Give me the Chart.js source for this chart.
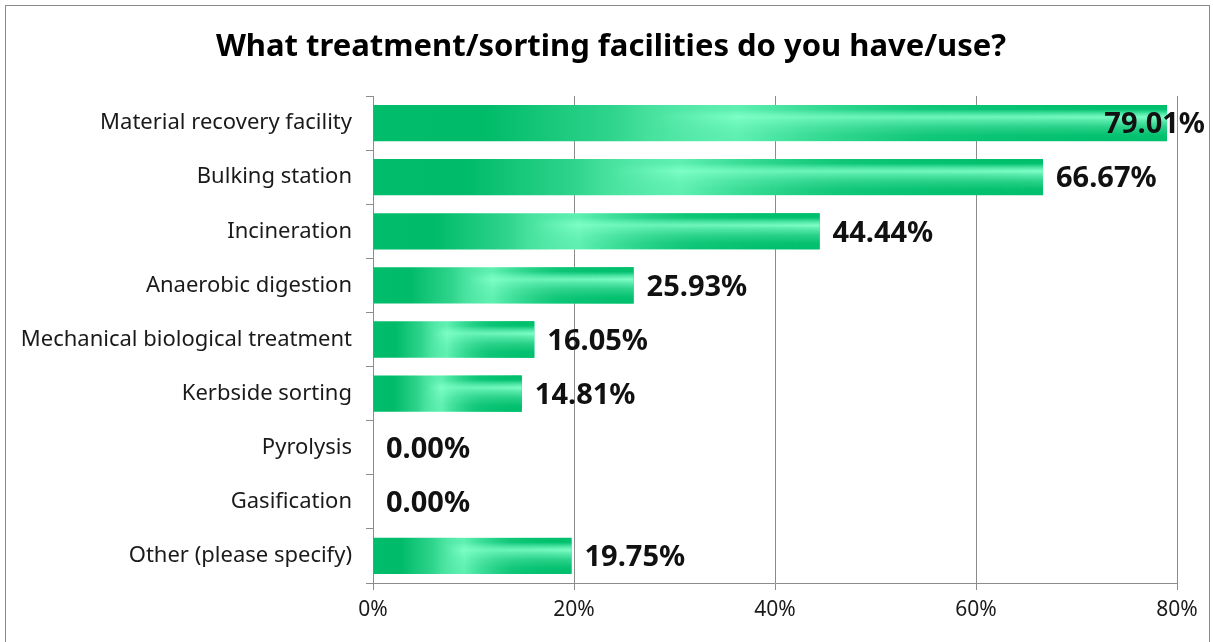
<!DOCTYPE html>
<html>
<head>
<meta charset="utf-8">
<script src="https://cdn.jsdelivr.net/npm/chart.js@4.4.1/dist/chart.umd.min.js"></script>
<style>
  html, body { margin: 0; padding: 0; background: #fff; }
  #wrap { width: 1213px; height: 642px; position: relative; }
</style>
</head>
<body>
<div id="wrap"><canvas id="c" width="1213" height="642"></canvas></div>
<script>
const chartTitle = 'What treatment/sorting facilities do you have/use?';
const categories = [
  'Material recovery facility',
  'Bulking station',
  'Incineration',
  'Anaerobic digestion',
  'Mechanical biological treatment',
  'Kerbside sorting',
  'Pyrolysis',
  'Gasification',
  'Other (please specify)'
];
const shares = [79.01, 66.67, 44.44, 25.93, 16.05, 14.81, 0.00, 0.00, 19.75];
const axisTicks = [0, 20, 40, 60, 80];

const FONT = '"Noto Sans", "Open Sans", sans-serif';
const GRID = '#8c8c8c';

// Glossy green fill, computed per bar from its pixel extent
function barFill(ctx) {
  const chart = ctx.chart;
  const xs = chart.scales.x;
  if (!chart.chartArea || !xs) return '#00bf6f';
  const x0 = xs.getPixelForValue(0);
  const x1 = xs.getPixelForValue(ctx.raw || 0);
  if (x1 - x0 < 1) return '#00bf6f';
  const g = chart.ctx.createLinearGradient(x0, 0, x1, 0);
  g.addColorStop(0.00, '#00bd6c');
  g.addColorStop(0.14, '#00bb69');
  g.addColorStop(0.30, '#2fd48c');
  g.addColorStop(0.46, '#7cffc6');
  g.addColorStop(0.72, '#38da95');
  g.addColorStop(1.00, '#00c06e');
  return g;
}

// Horizontal sheen that fades in toward the bar end
const shinePlugin = {
  id: 'shine',
  afterDatasetsDraw(chart) {
    const c = chart.ctx;
    const meta = chart.getDatasetMeta(0);
    meta.data.forEach((bar) => {
      const p = bar.getProps(['x', 'y', 'base', 'height'], true);
      const left = Math.round(p.base), right = p.x, h = p.height, top = p.y - h / 2;
      const w = Math.ceil(right - left);
      if (w < 2) return;
      const off = document.createElement('canvas');
      off.width = w;
      off.height = Math.ceil(h);
      const o = off.getContext('2d');
      const vg = o.createLinearGradient(0, 0, 0, h);
      vg.addColorStop(0.00, '#00be6b');
      vg.addColorStop(0.12, '#00c06e');
      vg.addColorStop(0.24, '#4fe6a5');
      vg.addColorStop(0.34, '#80ffc8');
      vg.addColorStop(0.44, '#5cecae');
      vg.addColorStop(0.62, '#2cd28a');
      vg.addColorStop(0.85, '#05c170');
      vg.addColorStop(1.00, '#00bf6d');
      o.fillStyle = vg;
      o.fillRect(0, 0, w, off.height);
      o.globalCompositeOperation = 'destination-in';
      const hg = o.createLinearGradient(0, 0, w, 0);
      hg.addColorStop(0.00, 'rgba(0,0,0,0)');
      hg.addColorStop(0.35, 'rgba(0,0,0,0)');
      hg.addColorStop(0.70, 'rgba(0,0,0,0.75)');
      hg.addColorStop(1.00, 'rgba(0,0,0,1)');
      o.fillStyle = hg;
      o.fillRect(0, 0, w, off.height);
      c.save();
      c.beginPath();
      c.rect(p.base, top, right - p.base, h);
      c.clip();
      c.drawImage(off, left, top, w, h);
      c.restore();
    });
  }
};

// Bold value labels after each bar, kept inside the frame
const valueLabelPlugin = {
  id: 'valueLabels',
  afterDatasetsDraw(chart) {
    const c = chart.ctx;
    const meta = chart.getDatasetMeta(0);
    c.save();
    c.font = 'bold 29px ' + FONT;
    c.fillStyle = '#111';
    c.textBaseline = 'middle';
    c.textAlign = 'left';
    meta.data.forEach((bar, i) => {
      const txt = shares[i].toFixed(2) + '%';
      const tw = c.measureText(txt).width;
      let x = bar.x + 13;
      const maxRight = 1205;
      if (x + tw > maxRight) x = maxRight - tw;
      c.fillText(txt, x, bar.y + 2);
    });
    c.restore();
  }
};

// Title and outer frame
const framePlugin = {
  id: 'frame',
  beforeDraw(chart) {
    const c = chart.ctx;
    c.save();
    c.fillStyle = '#fff';
    c.fillRect(0, 0, chart.width, chart.height);
    c.strokeStyle = '#8a8a8a';
    c.lineWidth = 1;
    c.strokeRect(5.5, 5.5, 1204, 700);
    c.restore();
  },
  afterDraw(chart) {
    const c = chart.ctx;
    c.save();
    c.font = 'bold 31px ' + FONT;
    c.fillStyle = '#000';
    c.textAlign = 'center';
    c.textBaseline = 'middle';
    c.fillText(chartTitle, 611, 47);
    c.restore();
  }
};

new Chart(document.getElementById('c'), {
  type: 'bar',
  data: {
    labels: categories,
    datasets: [{
      data: shares,
      backgroundColor: barFill,
      borderWidth: 0,
      barPercentage: 0.67,
      categoryPercentage: 1.0
    }]
  },
  options: {
    indexAxis: 'y',
    responsive: false,
    animation: false,
    events: [],
    layout: { padding: { top: 96, right: 36, bottom: 0, left: 0 } },
    plugins: {
      legend: { display: false },
      title: { display: false },
      tooltip: { enabled: false }
    },
    scales: {
      x: {
        min: 0,
        max: 80,
        afterBuildTicks(scale) { scale.ticks = axisTicks.map(v => ({ value: v })); },
        afterFit(scale) { scale.height = 59; },
        grid: { color: GRID, lineWidth: 1, tickLength: 7, drawTicks: true },
        border: { color: GRID, width: 1 },
        ticks: {
          color: '#1a1a1a',
          font: { family: FONT, size: 21 },
          padding: 7,
          callback: (v) => v + '%'
        }
      },
      y: {
        afterFit(scale) { scale.width = 373; },
        grid: { drawOnChartArea: false, color: GRID, tickLength: 7, offset: true },
        border: { color: GRID, width: 1 },
        ticks: {
          color: '#1a1a1a',
          font: { family: FONT, size: 22 },
          padding: 14
        }
      }
    }
  },
  plugins: [framePlugin, shinePlugin, valueLabelPlugin]
});
</script>
</body>
</html>
